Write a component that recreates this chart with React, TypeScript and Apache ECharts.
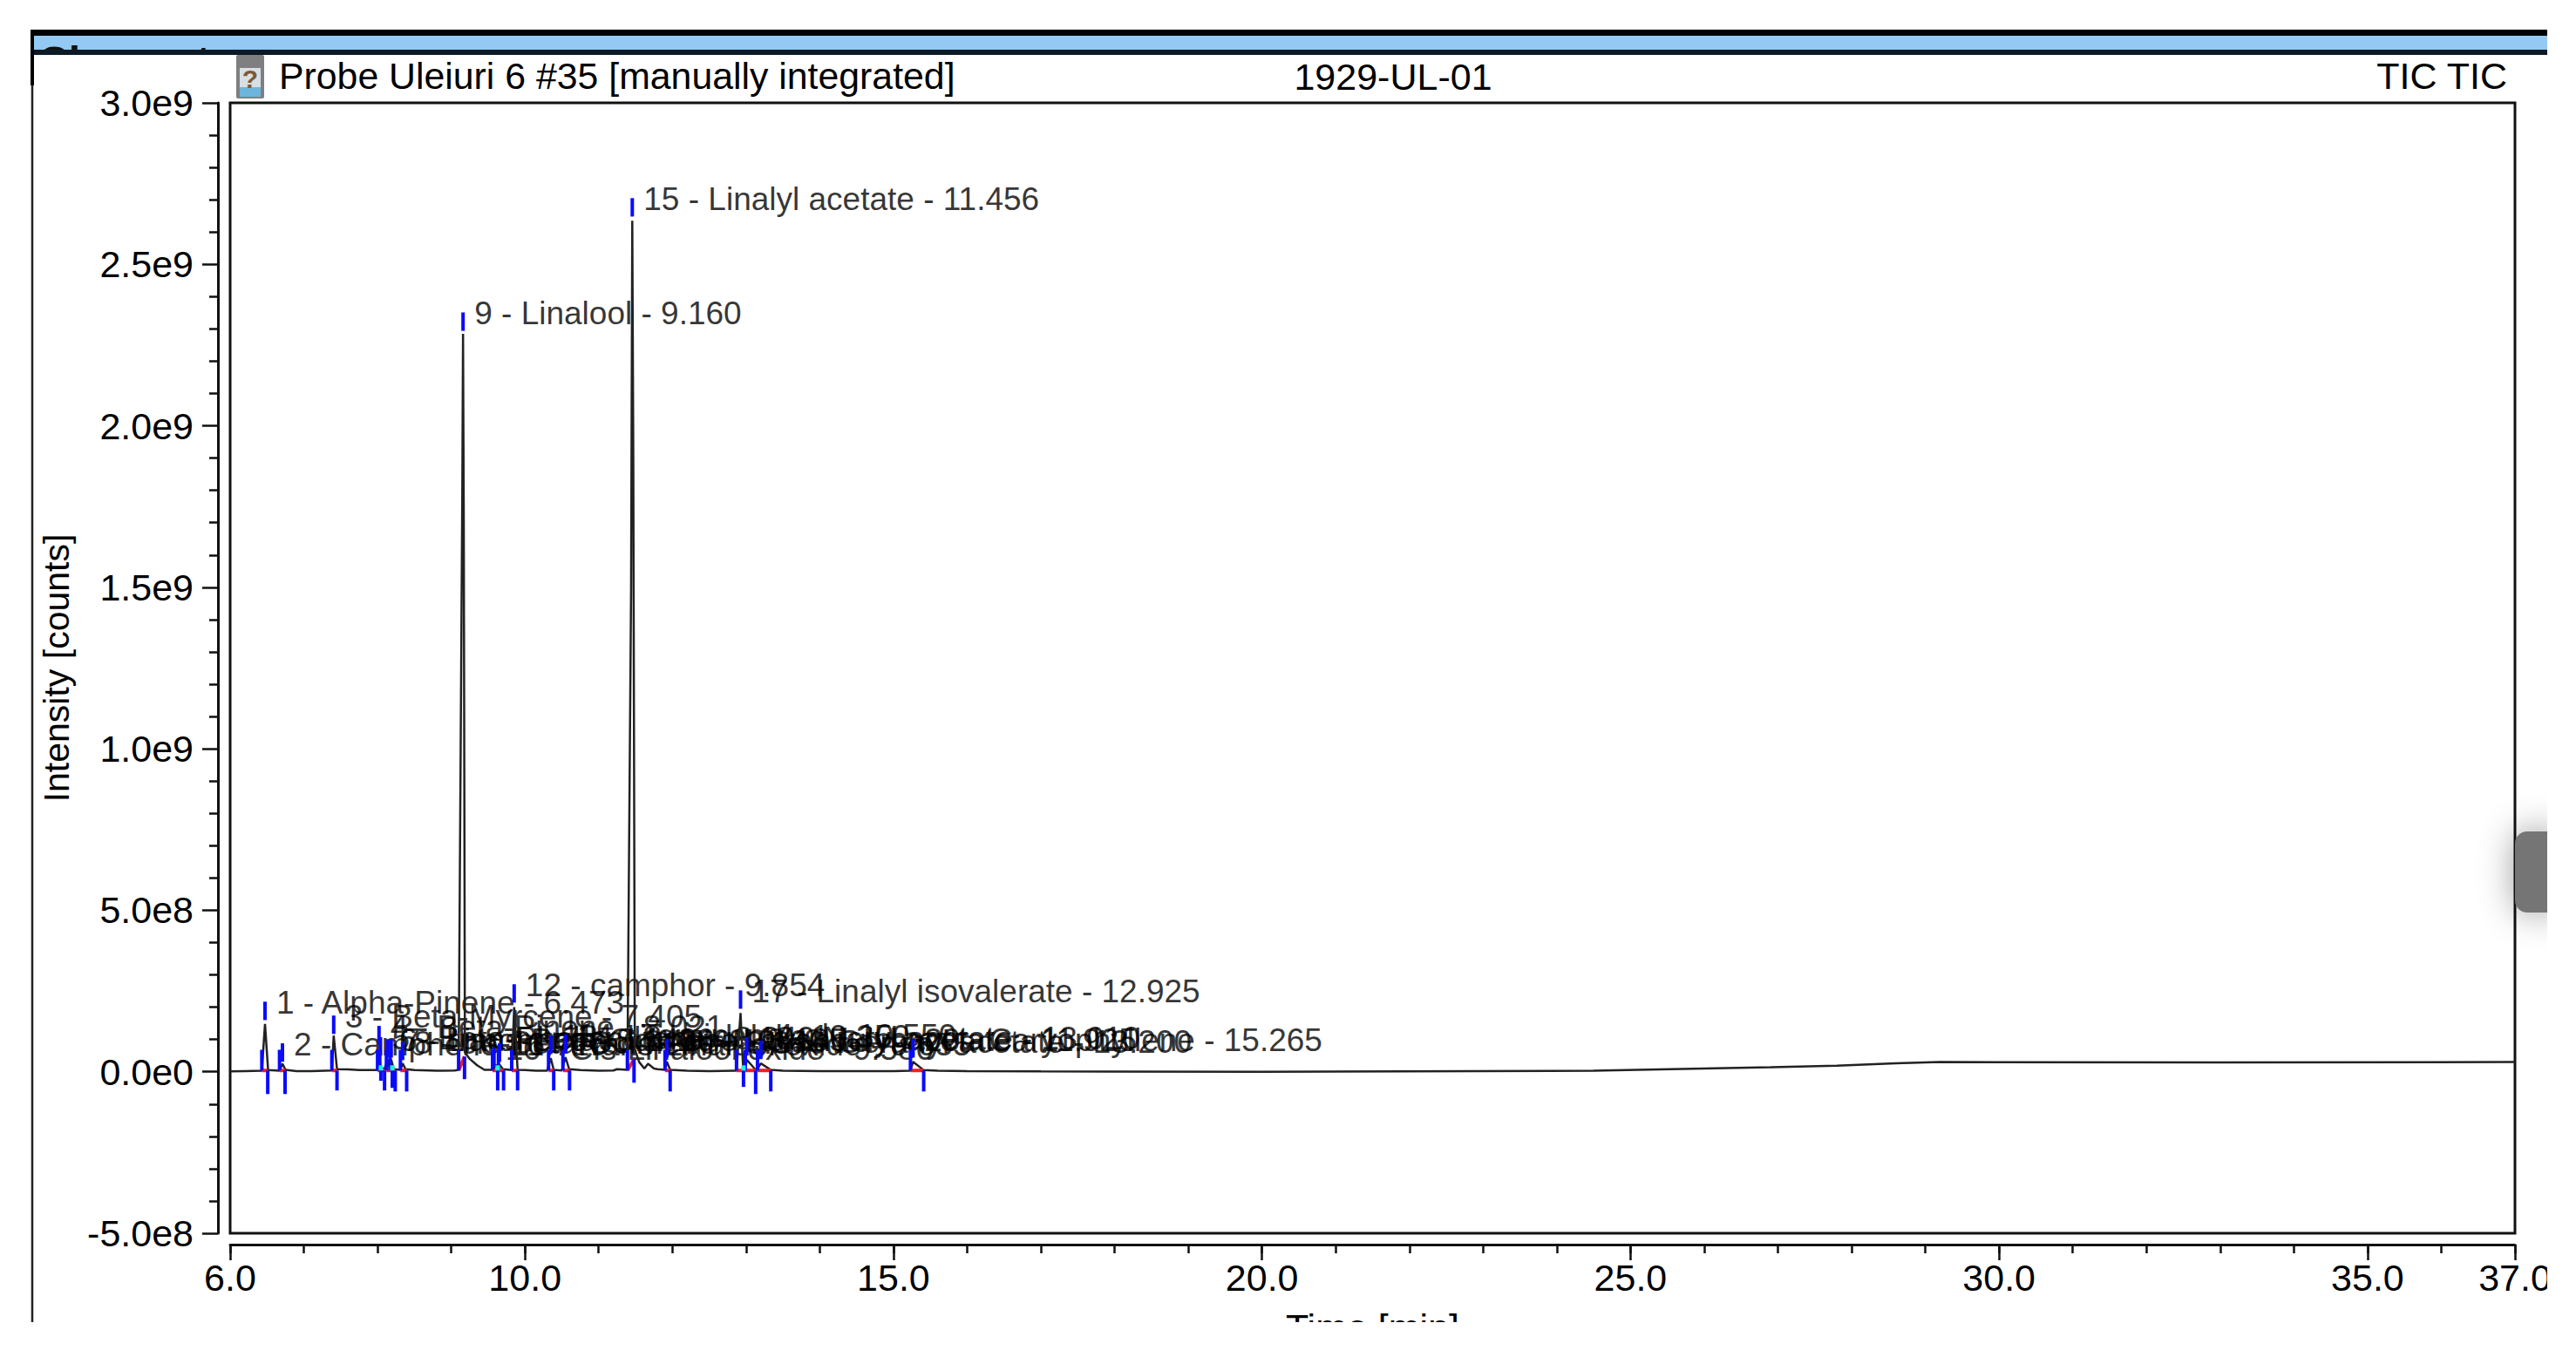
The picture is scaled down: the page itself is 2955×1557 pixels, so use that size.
import React, { useEffect, useRef } from "react";
import * as echarts from "echarts";

const FONT = "'Liberation Sans', Arial, sans-serif";
const MILLION = 1e6;

const xMajorTicks = [6, 10, 15, 20, 25, 30, 35, 37];

// TIC trace: [time (min), intensity (millions of counts)]
const traceTimes = [6, 6.2, 6.43, 6.473, 6.515, 6.67, 6.71, 6.75, 6.9, 7.1, 7.38, 7.405, 7.45, 7.6, 7.75, 8.0, 8.02, 8.04, 8.09, 8.14, 8.16, 8.185, 8.22, 8.31, 8.34, 8.38, 8.5, 8.8, 9.05, 9.1, 9.15, 9.16, 9.17, 9.185, 9.25, 9.35, 9.45, 9.58, 9.6, 9.63, 9.655, 9.7, 9.82, 9.854, 9.9, 10.0, 10.15, 10.3, 10.35, 10.39, 10.5, 10.55, 10.6, 10.75, 11.0, 11.2, 11.25, 11.39, 11.44, 11.456, 11.47, 11.49, 11.55, 11.62, 11.67, 11.75, 11.8, 11.9, 11.925, 11.97, 12.2, 12.5, 12.85, 12.87, 12.925, 12.96, 12.99, 13.01, 13.13, 13.155, 13.2, 13.335, 13.5, 14, 15, 15.23, 15.265, 15.41, 15.6, 16, 17, 20, 24.5, 26, 26.9, 27.8, 28.6, 29.2, 33, 37];
const traceValues = [1, 2, 3, 148, 5, 3, 25, 6, 2, 2, 4, 112, 8, 7, 5, 5, 65, 15, 7, 38, 12, 38, 8, 6, 26, 8, 5, 3, 4, 6, 1800, 2285, 1700, 60, 40, 20, 6, 6, 22, 12, 22, 8, 5, 200, 6, 5, 3, 3, 42, 6, 4, 45, 8, 5, 3, 4, 8, 6, 1500, 2635, 1900, 70, 30, 10, 25, 10, 8, 6, 31, 6, 3, 2, 3, 4, 182, 10, 12, 37, 6, 8, 26, 6, 3, 2, 2, 3, 31, 5, 3, 2, 1, 0, 3, 10, 14, 19, 26, 30, 29, 30];

const peakLabels = [
  "1 - Alpha-Pinene - 6.473",
  "2 - Camphene - 6.710",
  "3 - Beta-Myrcene - 7.405",
  "4 - Beta-Pinene - 8.021",
  "5 - Beta-Phellandrene - 8.040",
  "6 - Limonene - 8.140",
  "7 - trans-Beta-Ocimene - 8.185",
  "8 - cis-Beta-Ocimene - 8.340",
  "9 - Linalool - 9.160",
  "10 - Cis-Linalool oxide - 9.580",
  "11 - Trans-Linalool oxide - 9.655",
  "12 - camphor - 9.854",
  "13 - Lavandulol - 10.350",
  "14 - Terpinen-4-ol - 10.550",
  "15 - Linalyl acetate - 11.456",
  "16 - Lavandulyl acetate - 11.925",
  "17 - Linalyl isovalerate - 12.925",
  "18 - Neryl acetate - 13.010",
  "19 - Geranyl acetate - 13.200",
  "20 - Caryophyllene - 15.265",
];
const peakTimes = [6.473, 6.71, 7.405, 8.02, 8.04, 8.14, 8.185, 8.34, 9.16, 9.58, 9.655, 9.854, 10.35, 10.55, 11.456, 11.925, 12.925, 13.01, 13.2, 15.265];
const labelTickTops = [217, 88, 174, 142, 107, 101, 101, 93, 2351, 74, 88, 271, 112, 115, 2705, 101, 252, 107, 96, 101];
const labelTickSpan = 57;
const startTimes = [6.43, 6.67, 7.38, 8.0, 8.03, 8.12, 8.17, 8.31, 9.1, 9.56, 9.64, 9.82, 10.32, 10.515, 11.39, 11.9, 12.87, 12.99, 13.155, 15.23];
const startTickTop = 68;
const startTickBottom = 4;
const endTimes = [6.51, 6.745, 7.45, 8.045, 8.095, 8.2, 8.24, 8.395, 9.18, 9.63, 9.71, 9.9, 10.39, 10.605, 11.48, 11.97, 12.965, 13.13, 13.335, 15.41];
const endTickTops = [4, 4, 4, 4, 4, 4, 4, 4, 47, 4, 4, 4, 4, 4, 39, 4, 4, 4, 4, 4];
const endTickBottoms = [-69, -69, -58, -28, -58, -50, -61, -61, -23, -58, -58, -58, -58, -58, -34, -61, -47, -69, -61, -61];
const cyanTimes = [8.045, 8.2, 9.63, 12.965];
const cyanTop = 20;
const cyanBottom = 4;

const segmentSeries = (data: number[][], color: string, width: number, z: number) => ({
  type: "custom",
  z,
  silent: true,
  clip: false,
  encode: { x: [0, 2], y: [1, 3] },
  data,
  renderItem: (_p: any, api: any) => {
    const a = api.coord([api.value(0), api.value(1)]);
    const b = api.coord([api.value(2), api.value(3)]);
    return {
      type: "line",
      shape: { x1: a[0], y1: a[1], x2: b[0], y2: b[1] },
      style: { stroke: color, lineWidth: width, fill: null },
    };
  },
});

export default function App() {
  const ref = useRef<HTMLDivElement>(null);
  useEffect(() => {
    document.body.style.margin = "0";
    const chart = echarts.init(ref.current!, null, { renderer: "svg" });

    const labelTicks = peakTimes.map((t, i) => [t, labelTickTops[i] * MILLION, t, (labelTickTops[i] - labelTickSpan) * MILLION]);
    const startTicks = startTimes.map((t) => [t, startTickTop * MILLION, t, startTickBottom * MILLION]);
    const endTicks = endTimes.map((t, i) => [t, endTickTops[i] * MILLION, t, endTickBottoms[i] * MILLION]);
    const redBases = startTimes.map((t, i) => [t, startTickBottom * MILLION, endTimes[i], endTickTops[i] * MILLION]);
    const cyanMarks = cyanTimes.map((t) => [t, cyanTop * MILLION, t, cyanBottom * MILLION]);

    const tickFormat = (v: number) => {
      if (v === 0) return "0.0e0";
      return v.toExponential(1).replace("+", "");
    };

    chart.setOption({
      animation: false,
      backgroundColor: "#ffffff",
      textStyle: { fontFamily: FONT },
      grid: {
        show: true,
        left: 264,
        top: 118,
        width: 2621,
        height: 1297,
        borderColor: "#111111",
        borderWidth: 3,
        containLabel: false,
        outerBoundsMode: "none",
      },
      xAxis: [
        {
          type: "value",
          min: 6,
          max: 37,
          position: "bottom",
          offset: 13,
          name: "Time [min]",
          nameLocation: "middle",
          nameGap: 73,
          nameTextStyle: { fontFamily: FONT, fontSize: 43, color: "#000000" },
          axisLine: { show: true, onZero: false, lineStyle: { color: "#111111", width: 3 } },
          axisTick: { show: true, length: 18, customValues: xMajorTicks, lineStyle: { color: "#111111", width: 2.5 } },
          axisLabel: {
            show: true,
            customValues: xMajorTicks,
            formatter: (v: number) => v.toFixed(1),
            fontFamily: FONT,
            fontSize: 43,
            color: "#000000",
            margin: 16,
          },
          splitLine: { show: false },
        },
        {
          type: "value",
          min: 6,
          max: 37,
          interval: 1,
          position: "bottom",
          offset: 13,
          axisLine: { show: false, onZero: false },
          axisTick: { show: true, length: 10, lineStyle: { color: "#111111", width: 2.5 } },
          axisLabel: { show: false },
          splitLine: { show: false },
        },
      ],
      yAxis: {
        type: "value",
        min: -5e8,
        max: 3e9,
        interval: 5e8,
        position: "left",
        offset: 14,
        name: "Intensity [counts]",
        nameLocation: "middle",
        nameGap: 165,
        nameTextStyle: { fontFamily: FONT, fontSize: 41, color: "#000000" },
        axisLine: { show: true, onZero: false, lineStyle: { color: "#111111", width: 3 } },
        axisTick: { show: true, length: 18, lineStyle: { color: "#111111", width: 2.5 } },
        minorTick: { show: true, splitNumber: 5, length: 10, lineStyle: { color: "#111111", width: 2.5 } },
        axisLabel: {
          show: true,
          formatter: tickFormat,
          fontFamily: FONT,
          fontSize: 43,
          color: "#000000",
          margin: 28,
          padding: [0, 0, 10, 0],
        },
        splitLine: { show: false },
      },
      series: [
        {
          type: "scatter",
          z: 1,
          silent: true,
          symbolSize: 0,
          data: peakTimes.map((t, i) => ({
            value: [t, labelTickTops[i] * MILLION],
            label: { formatter: peakLabels[i] },
          })),
          label: {
            show: true,
            position: "right",
            distance: 13,
            offset: [0, 1],
            fontFamily: FONT,
            fontSize: 37,
            color: "#000000",
          },
        },
        {
          type: "line",
          z: 2,
          silent: true,
          showSymbol: false,
          symbol: "none",
          data: traceTimes.map((t, i) => [t, traceValues[i] * MILLION]),
          lineStyle: { color: "#222222", width: 2.5 },
        },
        segmentSeries(redBases, "#ff1a1a", 4, 3),
        segmentSeries(labelTicks, "#0a0aff", 4, 4),
        segmentSeries(startTicks, "#0a0aff", 4, 4),
        segmentSeries(endTicks, "#0a0aff", 4, 4),
        segmentSeries(cyanMarks, "#19f2e6", 5, 5),
      ],
      graphic: [
        { type: "rect", z: 9, shape: { x: 35, y: 34, width: 2887, height: 7 }, style: { fill: "#000000" } },
        { type: "rect", z: 9, shape: { x: 35, y: 41, width: 2887, height: 16 }, style: { fill: "#93c9f2" } },
        { type: "text", z: 10, x: 44, y: 94, style: { text: "Chromatogram", font: `bold 48px ${FONT}`, fill: "#111111", verticalAlign: "bottom", align: "left" } },
        { type: "rect", z: 11, shape: { x: 38, y: 57, width: 400, height: 42 }, style: { fill: "#ffffff" } },
        { type: "rect", z: 12, shape: { x: 35, y: 57, width: 2887, height: 6 }, style: { fill: "#0c1a26" } },
        { type: "rect", z: 12, shape: { x: 35, y: 34, width: 4, height: 64 }, style: { fill: "#000000" } },
        { type: "line", z: 12, shape: { x1: 37, y1: 98, x2: 37, y2: 1517 }, style: { stroke: "#222222", lineWidth: 2.5 } },
        // vial icon
        { type: "rect", z: 13, shape: { x: 271, y: 63, width: 32, height: 50, r: 2 }, style: { fill: "#7f7f7f" } },
        { type: "rect", z: 13, shape: { x: 275, y: 78, width: 24, height: 33 }, style: { fill: "#d8dfe3" } },
        { type: "rect", z: 13, shape: { x: 275, y: 100, width: 24, height: 11 }, style: { fill: "#6db5dd" } },
        { type: "text", z: 14, x: 287, y: 90, style: { text: "?", font: `bold 30px ${FONT}`, fill: "#7a5a3a", align: "center", verticalAlign: "middle" } },
        { type: "text", z: 14, x: 320, y: 87, style: { text: "Probe Uleiuri 6 #35 [manually integrated]", font: `42.8px ${FONT}`, fill: "#000000", verticalAlign: "middle", align: "left" } },
        { type: "text", z: 14, x: 1598, y: 88, style: { text: "1929-UL-01", font: `43px ${FONT}`, fill: "#000000", verticalAlign: "middle", align: "center" } },
        { type: "text", z: 14, x: 2876, y: 87, style: { text: "TIC TIC", font: `43px ${FONT}`, fill: "#000000", verticalAlign: "middle", align: "right" } },
        // scrollbar pill with its soft shadow
        { type: "rect", z: 20, shape: { x: 2885, y: 954, width: 50, height: 93, r: [14, 0, 0, 14] }, style: { fill: "#757575", shadowBlur: 40, shadowColor: "rgba(0,0,0,0.4)" } },
        // page edges that cut the screenshot off
        { type: "rect", z: 30, shape: { x: 2922, y: 0, width: 33, height: 1557 }, style: { fill: "#ffffff" } },
        { type: "rect", z: 30, shape: { x: 0, y: 1517, width: 2955, height: 40 }, style: { fill: "#ffffff" } },
      ],
    });
    return () => chart.dispose();
  }, []);
  return <div ref={ref} style={{ position: "fixed", left: 0, top: 0, width: 2955, height: 1557, background: "#fff" }} />;
}
